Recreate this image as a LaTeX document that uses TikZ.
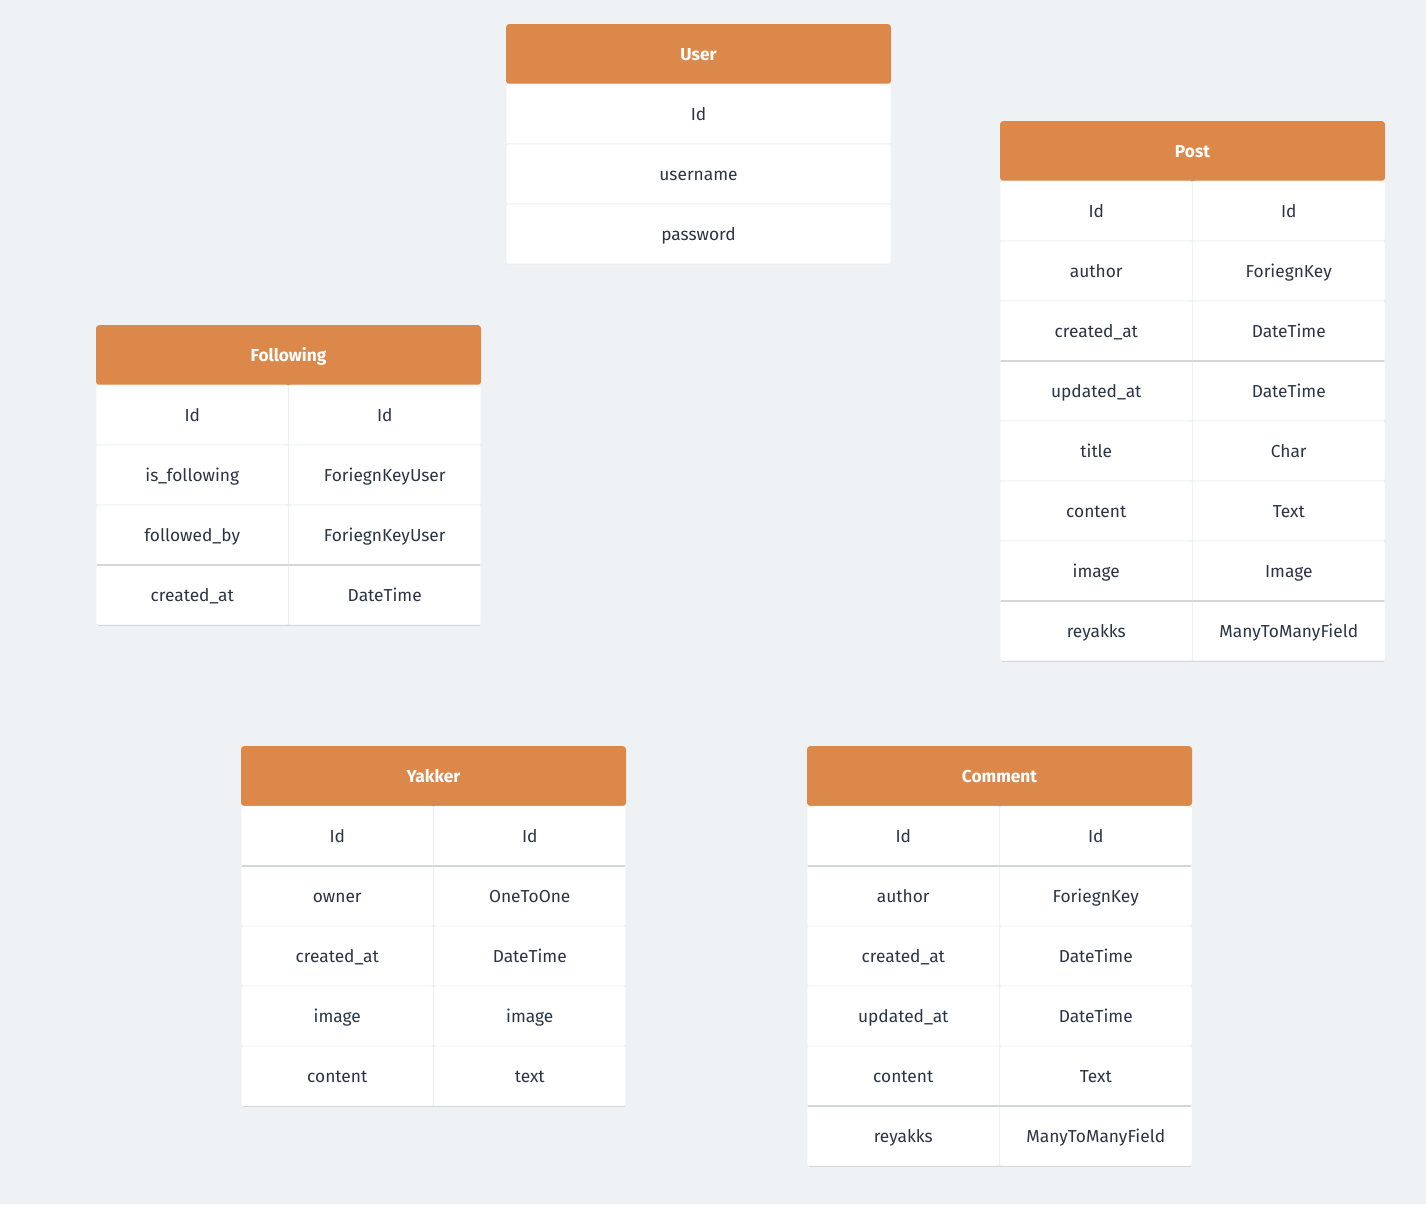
\documentclass[tikz,border=0pt]{standalone}
\usepackage{fontspec}
\setmainfont{Fira Sans}
\definecolor{bgcol}{HTML}{EFF2F5}
\definecolor{headorange}{HTML}{DC884A}
\definecolor{inkdark}{HTML}{2A3444}
\definecolor{cellline}{HTML}{EDEEEF}
\definecolor{sepgray}{HTML}{D3D6DA}
\tikzset{
  cellbox/.style={fill=white, draw=cellline, line width=0.4pt, rounded corners=1.5pt},
  headbox/.style={fill=headorange, rounded corners=2.5pt},
  celltext/.style={font=\fontsize{13}{15}\selectfont, text=inkdark, inner sep=0pt, anchor=base},
  headtext/.style={font=\fontsize{13}{15}\selectfont\bfseries, text=white, inner sep=0pt, anchor=base},
  sepline/.style={draw=sepgray, line width=0.8pt}
}
% one-column table: name, left x, top y, title, rows
\newcommand{\eronecol}[5]{%
  \path[headbox] (#2,#3) rectangle ++(385,60);
  \node[headtext] (#1-title) at (#2+192.5,#3+36) {#4};
  \foreach \a [count=\i] in {#5} {
    \path[cellbox] (#2,#3+60*\i) rectangle ++(385,60);
    \node[celltext] (#1-\i) at (#2+192.5,#3+60*\i+36.5) {\a};
  }
}
% two-column table: name, left x, top y, title, rows, darker separators after rows, number of rows
\newcommand{\ertwocol}[7]{%
  \path[headbox] (#2,#3) rectangle ++(385,60);
  \node[headtext] (#1-title) at (#2+192.5,#3+36) {#4};
  \foreach \a/\b [count=\i] in {#5} {
    \path[cellbox] (#2,#3+60*\i) rectangle ++(192.5,60);
    \path[cellbox] (#2+192.5,#3+60*\i) rectangle ++(192.5,60);
    \node[celltext] (#1-\i-a) at (#2+96.25,#3+60*\i+36.5) {\a};
    \node[celltext] (#1-\i-b) at (#2+288.75,#3+60*\i+36.5) {\b};
  }
  \foreach \k in {#6} {
    \draw[sepline] (#2+1,#3+60*\k+60) -- (#2+384,#3+60*\k+60);
  }
  \draw[sepline] (#2+1.5,#3+60*#7+60.3) -- (#2+383.5,#3+60*#7+60.3);
}
\begin{document}
\begin{tikzpicture}[x=0.75pt,y=-0.75pt]
  \fill[bgcol] (0,0) rectangle (1426,1204);
  \useasboundingbox (0,0) rectangle (1426,1204);

  \eronecol{user}{506}{24}{User}{Id,username,password}
  \draw[draw=cellline, line width=0.8pt] (507.5,264.3) -- (889.5,264.3);

  \ertwocol{post}{1000}{121}{Post}{Id/Id, author/ForiegnKey, created\_at/DateTime, updated\_at/DateTime, title/Char, content/Text, image/Image, reyakks/ManyToManyField}{3,7}{8}

  \ertwocol{following}{96}{325}{Following}{Id/Id, is\_following/ForiegnKeyUser, followed\_by/ForiegnKeyUser, created\_at/DateTime}{3}{4}

  \ertwocol{yakker}{241}{746}{Yakker}{Id/Id, owner/OneToOne, created\_at/DateTime, image/image, content/text}{1}{5}

  \ertwocol{comment}{807}{746}{Comment}{Id/Id, author/ForiegnKey, created\_at/DateTime, updated\_at/DateTime, content/Text, reyakks/ManyToManyField}{1,5}{6}
\end{tikzpicture}
\end{document}
